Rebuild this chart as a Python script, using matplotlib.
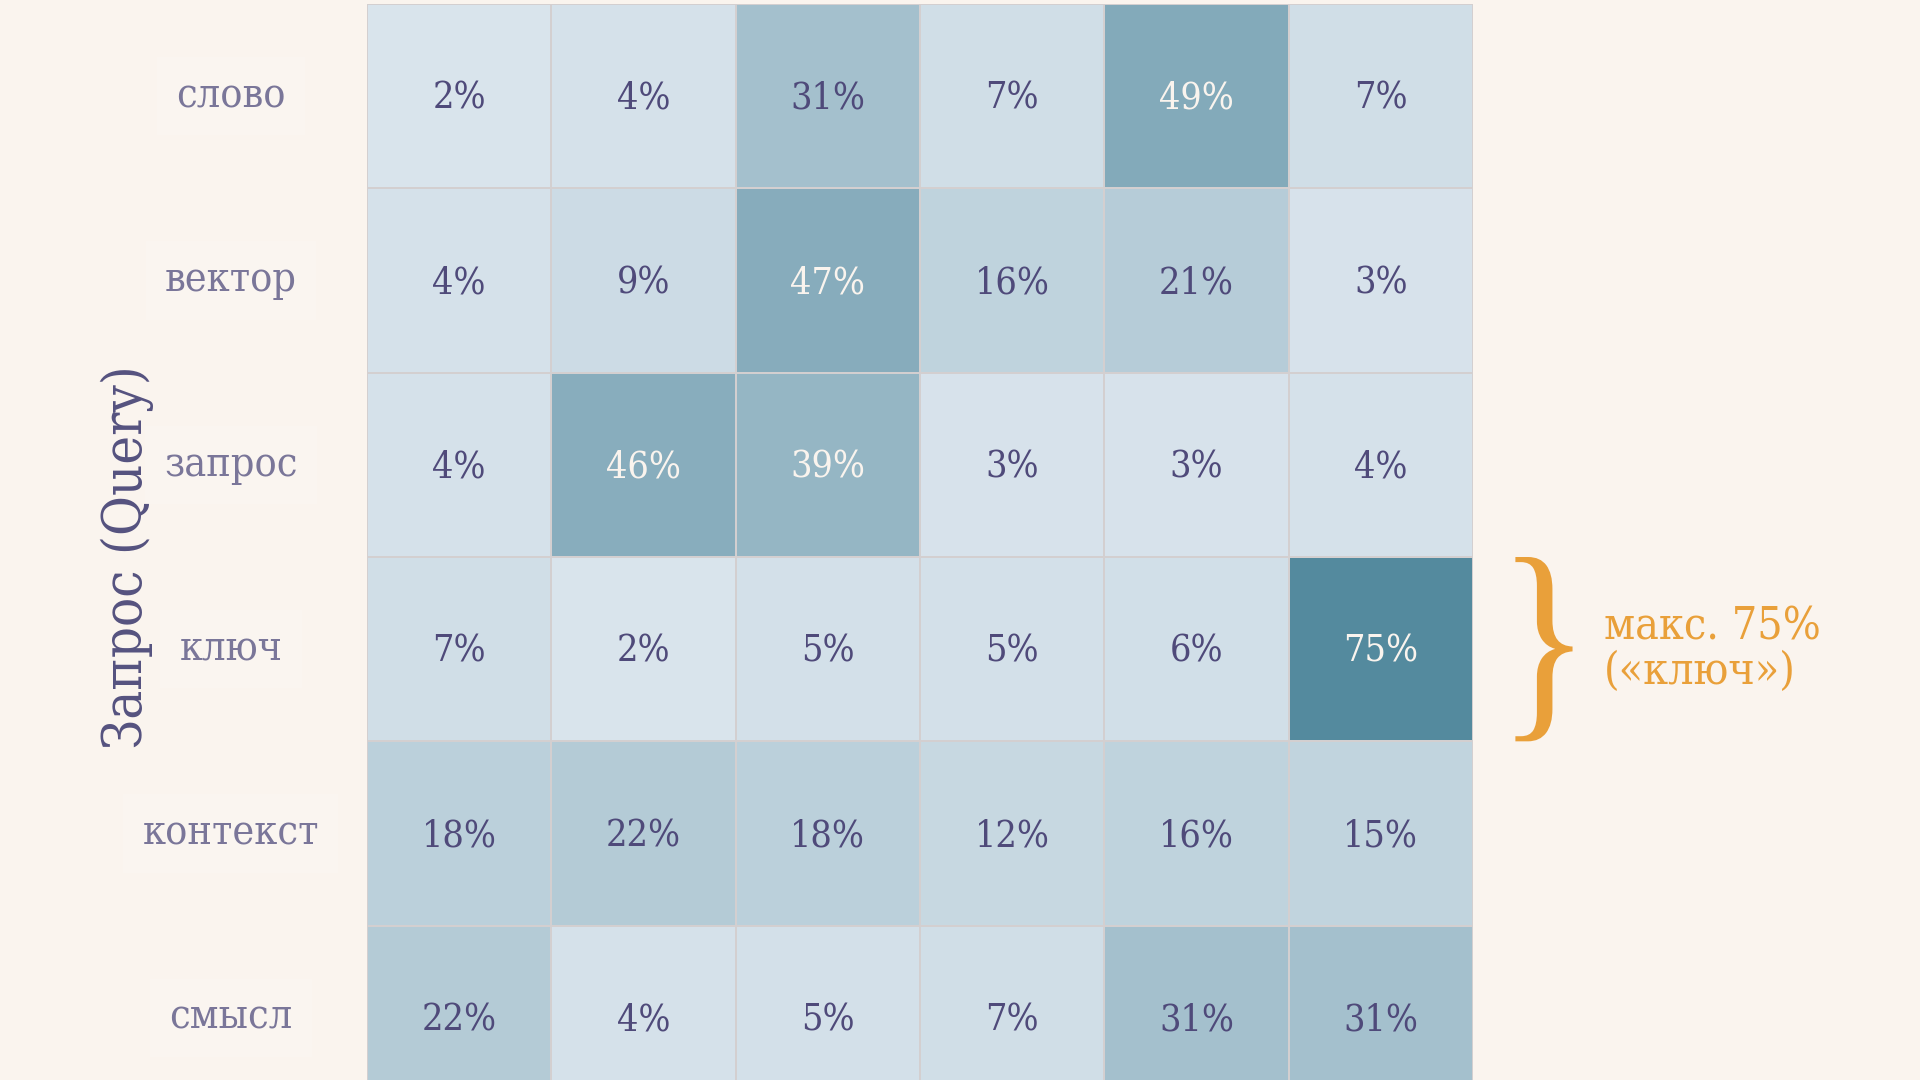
import numpy as np
import matplotlib.pyplot as plt
from matplotlib.colors import LinearSegmentedColormap
from matplotlib.textpath import TextPath
from matplotlib.patches import PathPatch
from matplotlib.font_manager import FontProperties
from matplotlib.transforms import Affine2D

# данные: строки = запросы, значения = доля внимания (%)
rows = ["слово", "вектор", "запрос", "ключ", "контекст", "смысл"]
values = np.array([
    [2, 4, 31, 7, 49, 7],
    [4, 9, 47, 16, 21, 3],
    [4, 46, 39, 3, 3, 4],
    [7, 2, 5, 5, 6, 75],
    [18, 22, 18, 12, 16, 15],
    [22, 4, 5, 7, 31, 31],
])
max_row = 3
max_label = "макс. 75%\n(«ключ»)"
y_title = "Запрос (Query)"

bg = "#FAF4EE"
dark_txt = "#4F4A7A"
light_txt = "#FAF4EE"
tick_col = "#7A7699"
orange = "#E9A03A"

plt.rcParams['font.family'] = ['DejaVu Serif']
plt.rcParams['font.stretch'] = 'condensed'

cmap = LinearSegmentedColormap.from_list("attn", ["#DCE6EE", "#548A9E"])

fig = plt.figure(figsize=(19.2, 10.8), dpi=100, facecolor=bg)
ax = fig.add_axes([367 / 1920, 1 - 1110 / 1080, 1106 / 1920, 1106 / 1080])
ax.set_facecolor(bg)

ax.pcolormesh(values, cmap=cmap, vmin=0, vmax=75,
              edgecolors="#D3CFD0", linewidth=1.1)
ax.set_xlim(0, values.shape[1])
ax.set_ylim(values.shape[0], 0)

for i in range(values.shape[0]):
    for j in range(values.shape[1]):
        v = values[i, j]
        ax.text(j + 0.5, i + 0.515, f"{v}%", ha="center", va="center",
                fontsize=27, color=light_txt if v > 35 else dark_txt)

ax.set_xticks([])
ax.set_yticks(np.arange(len(rows)) + 0.5, rows)
ax.tick_params(axis="y", length=0, pad=98, labelsize=29.5, labelcolor=tick_col)
for t in ax.get_yticklabels():
    t.set_ha("center")
    t.set_va("center")
    t.set_bbox(dict(facecolor="#FAF5F0", edgecolor="none", pad=14))
for s in ax.spines.values():
    s.set_visible(False)

ax.set_ylabel(y_title, fontsize=39, color="#55527F", va="center")
ax.yaxis.set_label_coords(-0.217, 0.5)

# фигурная скобка у строки с максимумом
bp = TextPath((0, 0), "}", prop=FontProperties(family="Liberation Serif"))
ext = bp.get_extents()
x0, x1 = 6.23, 6.54
tr = (Affine2D().translate(-ext.x0, -ext.y0)
      .scale((x1 - x0) / ext.width, -1.0 / ext.height)
      .translate(x0, max_row + 1))
ax.add_patch(PathPatch(tr.transform_path(bp), facecolor=orange,
                       edgecolor="none", clip_on=False))

ax.text(6.71, max_row + 0.5, max_label, ha="left", va="center",
        fontsize=32, color=orange, linespacing=1.02)

fig.savefig("out.png", dpi=100, facecolor=bg)
